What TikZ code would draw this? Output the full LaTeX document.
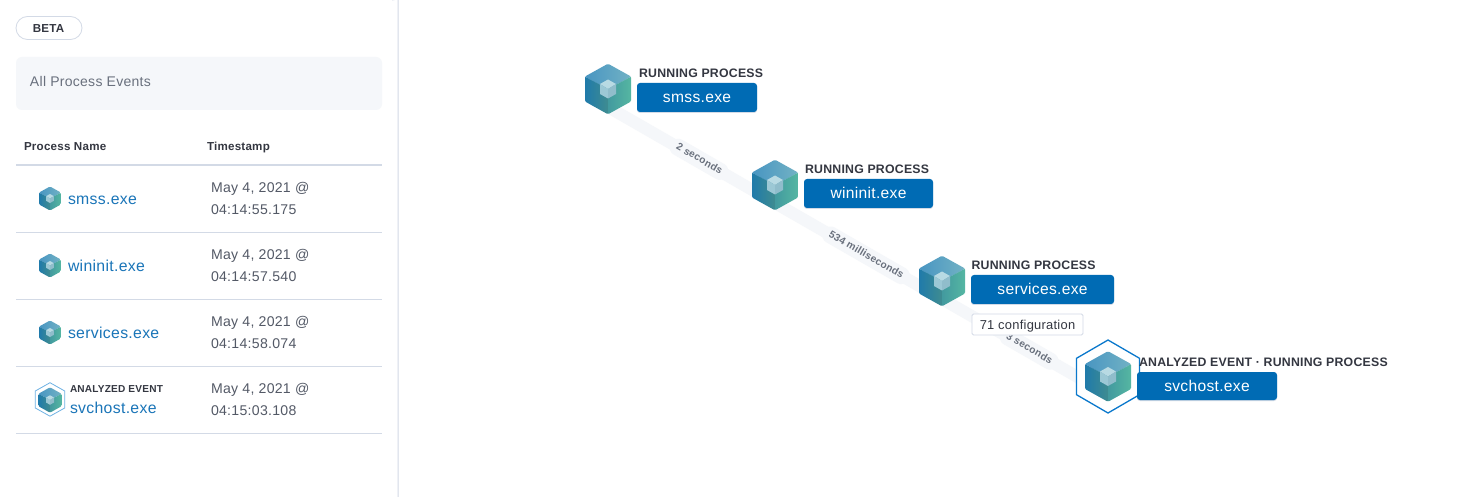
\documentclass[tikz,border=0pt]{standalone}
\usepackage{fontspec}
\setmainfont[LetterSpace=2]{Liberation Sans}
\usetikzlibrary{calc}
\definecolor{panelline}{HTML}{D3DAE6}
\definecolor{lightbg}{HTML}{F5F7FA}
\definecolor{greytext}{HTML}{69707D}
\definecolor{darktext}{HTML}{343741}
\definecolor{midtext}{HTML}{535966}
\definecolor{linkblue}{HTML}{1A75B8}
\definecolor{btnblue}{HTML}{006BB4}
\definecolor{hexblue}{HTML}{0A78CC}
\definecolor{hexlight}{HTML}{6FB2E4}
\definecolor{bandbg}{HTML}{F5F7FA}
\definecolor{topA}{HTML}{4895C2}\definecolor{topB}{HTML}{72B2C4}
\definecolor{leftA}{HTML}{1F7AAB}\definecolor{leftB}{HTML}{3F8C90}
\definecolor{rightA}{HTML}{429A9F}\definecolor{rightB}{HTML}{56B7A2}
\definecolor{miniT}{HTML}{B8DAE3}\definecolor{miniL}{HTML}{9CC8D5}\definecolor{miniR}{HTML}{90BDCB}
\tikzset{
  x=1pt,y=-1pt,
  every node/.style={inner sep=0pt,outer sep=0pt},
  band/.style={line width=12pt,draw=bandbg,line cap=butt},
  edgetext/.style={fill=bandbg,rounded corners=7pt,inner xsep=6pt,inner ysep=4pt,font=\fontsize{10.2}{12}\selectfont\bfseries,text=greytext,sloped,text height=7pt,text depth=2pt},
  button/.style={fill=btnblue,rounded corners=3pt,draw=none},
  btnshadow/.style={fill=panelline,rounded corners=3pt,draw=none},
  btntext/.style={font=\fontsize{15.6}{18}\selectfont,text=white,anchor=base},
  kindtext/.style={font=\fontsize{12.3}{14}\selectfont\bfseries,text=darktext,anchor=base west},
  tabletext/.style={font=\fontsize{14.1}{17}\selectfont,text=midtext,anchor=base west},
  headtext/.style={font=\fontsize{11.6}{14}\selectfont\bfseries,text=darktext,anchor=base west},
  nametext/.style={font=\fontsize{15.8}{18}\selectfont,text=linkblue,anchor=base west},
  rowline/.style={draw=panelline,line width=1pt},
  cubepic/.pic={
    \begin{scope}
    \clip[rounded corners=1.2pt] (0,-25.3) -- (23,-12.5) -- (23,12.5) -- (0,25.3) -- (-23,12.5) -- (-23,-12.5) -- cycle;
    \shade[left color=topA,right color=topB] (0,-25.5) -- (23.5,-12.5) -- (0,0.3) -- (-23.5,-12.5) -- cycle;
    \shade[shading angle=135,left color=leftA,right color=leftB] (-23.5,-12.5) -- (0.2,0) -- (0.2,25.5) -- (-23.5,12.5) -- cycle;
    \shade[shading angle=135,left color=rightA,right color=rightB] (23.5,-12.5) -- (0,0) -- (0,25.5) -- (23.5,12.5) -- cycle;
    \end{scope}
    \fill[miniT] (0,-9.5) -- (8,-5) -- (0,0) -- (-8,-5) -- cycle;
    \fill[miniL] (-8,-5) -- (0,0) -- (0,9.5) -- (-8,5) -- cycle;
    \fill[miniR] (8,-5) -- (0,0) -- (0,9.5) -- (8,5) -- cycle;
  }
}
\begin{document}
\begin{tikzpicture}
\useasboundingbox (0,0) rectangle (1460,497);
\fill[white] (0,0) rectangle (1460,497);

% ---- side panel
\draw[panelline,line width=1pt] (392,0) arc[start angle=90,end angle=0,radius=6] -- (398,497);
\node[draw=panelline,line width=.8pt,fill=white,rounded corners=11.5pt,minimum width=66pt,minimum height=23pt] (beta) at (49,28) {};
\node[font=\fontsize{11.6}{12}\selectfont\bfseries,text=darktext,anchor=base] (betat) at (48.5,32.4) {BETA};
\node[fill=lightbg,rounded corners=6pt,minimum width=366pt,minimum height=53pt] (allbox) at (199,83.5) {};
\node[font=\fontsize{14}{16}\selectfont,text=greytext,anchor=base west] (allt) at (30,86.7) {All Process Events};
\node[headtext] (hname) at (24,150.8) {Process Name};
\node[headtext] (hstamp) at (207,150.8) {Timestamp};
\draw[panelline,line width=2pt] (16,165) -- (382,165);
\draw[rowline] (16,232.5) -- (382,232.5);
\draw[rowline] (16,299.5) -- (382,299.5);
\draw[rowline] (16,366.5) -- (382,366.5);
\draw[rowline] (16,433.5) -- (382,433.5);

\pic[scale=.475] at (50,198.5) {cubepic};
\node[nametext] (r1n) at (68,204.5) {smss.exe};
\node[tabletext] (r1a) at (211,192.7) {May 4, 2021 @};
\node[tabletext] (r1b) at (211,214.7) {04:14:55.175};

\pic[scale=.475] at (50,265.5) {cubepic};
\node[nametext] (r2n) at (68,271.5) {wininit.exe};
\node[tabletext] (r2a) at (211,259.7) {May 4, 2021 @};
\node[tabletext] (r2b) at (211,281.7) {04:14:57.540};

\pic[scale=.475] at (50,332.5) {cubepic};
\node[nametext] (r3n) at (68,338.5) {services.exe};
\node[tabletext] (r3a) at (211,326.7) {May 4, 2021 @};
\node[tabletext] (r3b) at (211,348.7) {04:14:58.074};

\draw[hexlight,line width=.8pt,fill=white] (50,382.7) -- (64.7,391) -- (64.7,408) -- (50,416.2) -- (35.3,408) -- (35.3,391) -- cycle;
\pic[scale=.5] at (50,400) {cubepic};
\node[font=\fontsize{10.1}{11}\selectfont\bfseries,text=darktext,anchor=base west] (r4k) at (70,392) {ANALYZED EVENT};
\node[nametext] (r4n) at (70,413) {svchost.exe};
\node[tabletext] (r4a) at (211,393.7) {May 4, 2021 @};
\node[tabletext] (r4b) at (211,415.7) {04:15:03.108};

% ---- graph anchors
\coordinate (a) at (608,89);
\coordinate (b) at (775,185);
\coordinate (c) at (942,281);
\coordinate (d) at (1108,376.5);
\coordinate (ae) at ($(a)+(0,18)$);
\coordinate (be) at ($(b)+(0,18)$);
\coordinate (ce) at ($(c)+(0,18)$);
\coordinate (de) at ($(d)+(0,18)$);

% ---- connectors
\draw[band] (ae) -- (be) node[edgetext,pos=.545] (l1) {2 seconds};
\draw[band] (be) -- (ce) node[edgetext,pos=.545] (l2) {534 milliseconds};
\draw[band] (ce) -- (de) node[edgetext,pos=.525] (l3) {3 seconds};

% ---- graph nodes
\pic at (a) {cubepic};
\pic at (b) {cubepic};
\pic at (c) {cubepic};
\draw[hexblue,line width=1.3pt,fill=white] (1108,340) -- (1139.5,358.3) -- (1139.5,394.7) -- (1108,413) -- (1076.5,394.7) -- (1076.5,358.3) -- cycle;
\pic at (d) {cubepic};

\fill[btnshadow] (637,84) rectangle (757,113);
\node[button,minimum width=120pt,minimum height=29pt] (n1) at (697,97.5) {};
\node[btntext] (n1t) at (697,102.5) {smss.exe};
\node[kindtext] (k1) at (639,78) {RUNNING PROCESS};

\fill[btnshadow] (804,180) rectangle (933,209);
\node[button,minimum width=129pt,minimum height=29pt] (n2) at (868.5,193.5) {};
\node[btntext] (n2t) at (868.5,198.5) {wininit.exe};
\node[kindtext] (k2) at (805,174) {RUNNING PROCESS};

\fill[btnshadow] (971,276) rectangle (1114,305);
\node[button,minimum width=143pt,minimum height=29pt] (n3) at (1042.5,289.5) {};
\node[btntext] (n3t) at (1042.5,294.5) {services.exe};
\node[kindtext] (k3) at (971.5,270) {RUNNING PROCESS};

\node[draw=panelline,line width=.8pt,fill=white,rounded corners=1.5pt,minimum width=111pt,minimum height=21pt] (cfg) at (1027.5,324.5) {};
\node[font=\fontsize{12.9}{14}\selectfont,text=darktext,anchor=base] (cfgt) at (1027.5,329) {71 configuration};

\fill[btnshadow] (1137,373) rectangle (1277,401);
\node[button,minimum width=140pt,minimum height=28pt] (n4) at (1207,386) {};
\node[btntext] (n4t) at (1207,391.5) {svchost.exe};
\node[kindtext] (k4) at (1139,366) {ANALYZED EVENT · RUNNING PROCESS};
\end{tikzpicture}
\end{document}
